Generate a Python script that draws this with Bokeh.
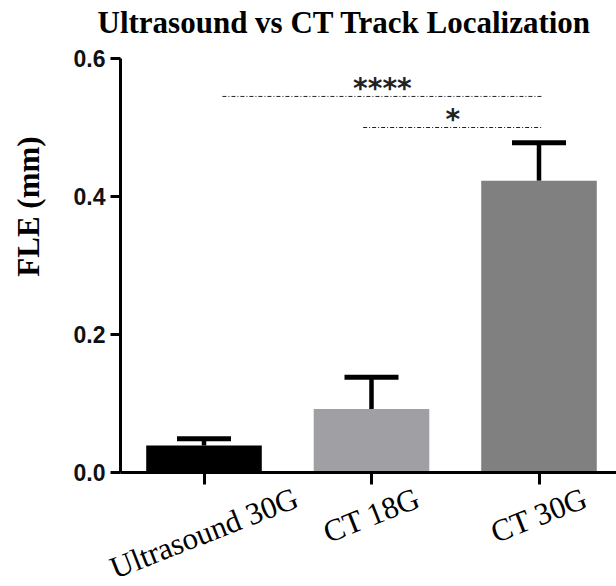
from math import pi, sin, cos
from bokeh.plotting import figure
from bokeh.models import (Range1d, FixedTicker, NumeralTickFormatter, Label,
                          ColumnDataSource, Whisker, TeeHead)
from bokeh.core.properties import value
from bokeh.embed import file_html
from bokeh.resources import INLINE

# ---- data ----
categories = ["Ultrasound 30G", "CT 18G", "CT 30G"]
fle_mean = [0.039, 0.092, 0.423]
fle_sem = [0.010, 0.046, 0.055]
bar_colors = ["#000000", "#A0A0A4", "#808080"]
y_ticks = [0.0, 0.2, 0.4, 0.6]
sig_text = ["****", "*"]
sig_x0 = [0.11, 0.95]
sig_x1 = [2.02, 2.02]
sig_y = [0.545, 0.500]

xs = list(range(len(categories)))
upper = [m + s for m, s in zip(fle_mean, fle_sem)]

# ---- layout (screen pixels) ----
W, H = 616, 586
FRAME_TOP = 40          # room for the title
X_ORIGIN, PX_X = 203.5, 167.5   # screen x of first category, px per category
Y_ORIGIN, PX_Y = 472, 690       # screen y of value 0, px per unit
AXIS_LEFT = 120

def dx(sx):
    return (sx - X_ORIGIN) / PX_X

def dy(sy):
    return (Y_ORIGIN - sy) / PX_Y

p = figure(width=W, height=H, output_backend="svg", toolbar_location=None,
           x_range=Range1d(dx(0), dx(W)), y_range=Range1d(dy(H), dy(FRAME_TOP)),
           min_border_left=0, min_border_right=0, min_border_top=FRAME_TOP,
           min_border_bottom=0, background_fill_color="white",
           border_fill_color="white")
p.outline_line_color = None
p.xgrid.visible = False
p.ygrid.visible = False

p.title.text = "Ultrasound vs CT Track Localization"
p.title.text_font = "Liberation Serif"
p.title.text_font_style = "bold"
p.title.text_font_size = "31px"
p.title.text_color = "black"
p.title.align = "left"
p.title.offset = 97
p.title.vertical_align = "bottom"
p.title.standoff = 2

# bars
src = ColumnDataSource(dict(x=xs, top=fle_mean, upper=upper, color=bar_colors))
p.vbar(x="x", top="top", width=0.69, bottom=0, color="color", line_color=None, source=src)

# error bars (upper only)
w = Whisker(base="x", upper="upper", lower="top", source=src,
            upper_head=TeeHead(size=54, line_width=5, line_color="black"),
            lower_head=None, line_width=4.5, line_color="black")
p.add_layout(w)

# significance brackets
sig_src = ColumnDataSource(dict(x0=sig_x0, x1=sig_x1, y=sig_y, text=sig_text,
                                xm=[(a + b) / 2 for a, b in zip(sig_x0, sig_x1)]))
p.segment(x0="x0", y0="y", x1="x1", y1="y", line_dash="4 2 1 2", line_width=1,
          line_color="#222222", source=sig_src)
p.text(x="xm", y="y", text="text", text_align="center", text_baseline="alphabetic",
       y_offset=-8, text_font=value("DejaVu Sans"), text_font_style="bold",
       text_font_size="28px", text_color="#222222", source=sig_src)

# axes, drawn at fixed positions inside the frame
for ax in p.xaxis:
    ax.fixed_location = 0
    ax.bounds = (dx(AXIS_LEFT), dx(W))
    ax.ticker = FixedTicker(ticks=xs)
    ax.major_label_overrides = {i: "" for i in xs}
    ax.major_label_text_font_size = "1px"
    ax.major_label_standoff = 0
    ax.axis_line_width = 3
    ax.axis_line_color = "black"
    ax.major_tick_line_width = 3
    ax.major_tick_line_color = "black"
    ax.major_tick_out = 12
    ax.major_tick_in = 0
    ax.minor_tick_out = 0
    ax.minor_tick_in = 0

for ax in p.yaxis:
    ax.fixed_location = dx(AXIS_LEFT)
    ax.bounds = (0, 0.6)
    ax.ticker = FixedTicker(ticks=y_ticks)
    ax.formatter = NumeralTickFormatter(format="0.0")
    ax.axis_line_width = 3
    ax.axis_line_color = "black"
    ax.major_tick_line_width = 3
    ax.major_tick_line_color = "black"
    ax.major_tick_out = 10
    ax.major_tick_in = 0
    ax.minor_tick_out = 0
    ax.minor_tick_in = 0
    ax.major_label_standoff = 5
    ax.major_label_text_font = "Liberation Sans"
    ax.major_label_text_font_style = "bold"
    ax.major_label_text_font_size = "23px"
    ax.major_label_text_color = "#111111"

# y axis title
p.add_layout(Label(x=dx(28), y=dy(206), text="FLE (mm)", angle=pi / 2,
                   text_align="center", text_baseline="middle",
                   text_font="Liberation Serif", text_font_style="bold",
                   text_font_size="31px", text_color="black"))

# rotated category labels: bounding box centred under the tick, right end at a
# constant height below the axis
ANG = 0.375
FS = 31
RIGHT_MID_Y = 496
TIMES_W = {"U": 722, "l": 278, "t": 278, "r": 333, "a": 444, "s": 389, "o": 500,
           "u": 500, "n": 500, "d": 500, " ": 250, "3": 500, "0": 500, "G": 722,
           "C": 667, "T": 611, "1": 500, "8": 500}
for i, cat in enumerate(categories):
    L = sum(TIMES_W.get(ch, 500) for ch in cat) / 1000 * FS
    cy = RIGHT_MID_Y + L / 2 * sin(ANG)
    p.add_layout(Label(x=i, y=dy(cy), text=cat, angle=ANG, text_align="center",
                       text_baseline="middle", text_font="Liberation Serif",
                       text_font_size=f"{FS}px", text_color="black"))

open("out.html", "w").write(file_html(p, INLINE))
